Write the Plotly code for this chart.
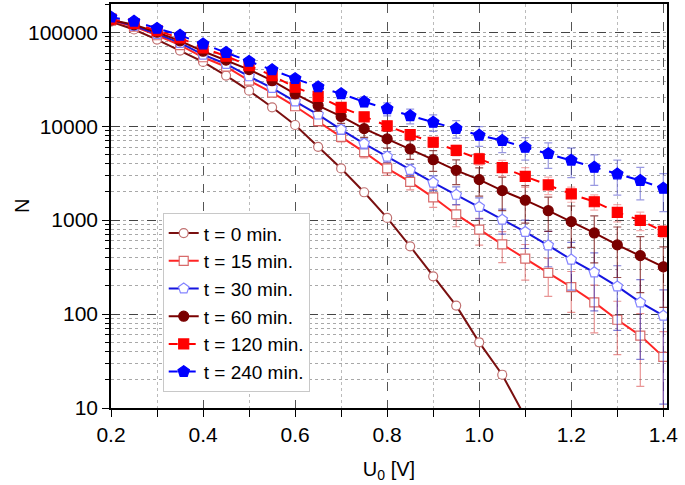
import plotly.graph_objects as go

U0 = [0.2, 0.25, 0.3, 0.35, 0.4, 0.45, 0.5, 0.55, 0.6, 0.65, 0.7, 0.75, 0.8,
      0.85, 0.9, 0.95, 1.0, 1.05, 1.1, 1.15, 1.2, 1.25, 1.3, 1.35, 1.4]

y_tick_vals = [10, 100, 1000, 10000, 100000]
y_tick_text = ["10", "100", "1000", "10000", "100000"]

t0 = [130000, 107000, 83600, 63800, 48400, 34600, 23900, 15900, 10300, 6030,
      3550, 1980, 1055, 526, 252, 123, 50, 22.6, 8]
t0_err = [4000, 3500, 3000, 2500, 2000, 1500, 1100, 800, 500, 300, 180, 100,
          55, 30, 15, 8, 4, 2, 1]

t15 = [133000, 115000, 93000, 73000, 54200, 43000, 30600, 22800, 16300, 11300,
       7700, 5300, 3550, 2550, 1750, 1150, 792, 553, 390, 274, 194, 133, 87, 59, 35]
t15_err = [3000, 3000, 3000, 2800, 2500, 2200, 2000, 1800, 1500, 1200, 900, 700,
           550, 450, 380, 300, 250, 200, 160, 120, 90, 70, 50, 42, 30]

t30 = [136000, 117000, 96000, 77000, 57800, 46000, 34000, 25500, 18400, 13300,
       9200, 6530, 4750, 3420, 2510, 1860, 1380, 1010, 749, 539, 380, 278, 197, 133, 96]
t30_err = [3000, 3000, 3000, 2800, 2500, 2200, 2000, 1800, 1500, 1200, 1000, 800,
           600, 500, 450, 400, 350, 300, 250, 220, 200, 170, 130, 100, 85]

t60 = [135000, 120000, 100000, 81000, 62800, 50500, 40100, 30500, 22100, 16600,
       12700, 9420, 7330, 5730, 4400, 3390, 2700, 2060, 1630, 1260, 964, 731, 545, 419, 318]
t60_err = [3000, 3000, 3000, 3000, 2800, 2700, 2600, 2500, 2500, 2200, 2000, 1800,
           1500, 1300, 1100, 1000, 900, 800, 700, 500, 450, 380, 300, 250, 200]

t120 = [138000, 124000, 104000, 87000, 68000, 55600, 44200, 34600, 26000, 20800,
        15900, 12600, 10100, 8150, 6750, 5540, 4490, 3620, 2930, 2370, 1900, 1570, 1210, 995, 760]
t120_err = [2500, 2500, 2500, 2500, 2500, 2200, 2000, 1800, 1800, 1500, 1300, 1200,
            1000, 900, 800, 700, 650, 700, 700, 500, 350, 290, 250, 220, 110]

t240 = [145000, 131000, 110000, 93000, 75000, 61000, 49000, 39800, 32100, 26200,
        22100, 18200, 15300, 12900, 11000, 9450, 8000, 7030, 5960, 5100, 4340, 3650, 3100, 2640, 2180]
t240_err = [3000, 3000, 3000, 3000, 2500, 2500, 2000, 1800, 2000, 2000, 2000, 2300,
            2400, 2300, 2200, 2000, 1900, 1800, 1600, 1550, 1500, 1300, 1250, 1000, 950]

series = [
    ("t = 0 min.", t0, t0_err, "#7a1010", "solid", "circle", "white", "#c07070", 9, "rgba(128,20,20,0.6)"),
    ("t = 15 min.", t15, t15_err, "#ff2525", "solid", "square", "white", "#d86a6a", 9, "rgba(215,60,60,0.55)"),
    ("t = 30 min.", t30, t30_err, "#1515e0", "solid", "pentagon", "white", "#8585ff", 11, "rgba(40,40,190,0.6)"),
    ("t = 60 min.", t60, t60_err, "#7a0000", "solid", "circle", "#7a0000", "#7a0000", 10, "rgba(110,0,0,0.7)"),
    ("t = 120 min.", t120, t120_err, "#ff0000", "dash", "square", "#ff0000", "#ff0000", 10, "rgba(235,110,110,0.55)"),
    ("t = 240 min.", t240, t240_err, "#0000ff", "dash", "pentagon", "#0000ff", "#0000ff", 12, "rgba(70,70,200,0.55)"),
]

fig = go.Figure()
for name, y, err, lc, dash, sym, fc, mlc, ms, ec in series:
    fig.add_trace(go.Scatter(
        x=U0[:len(y)], y=y, name=name, mode="lines+markers",
        line=dict(color=lc, width=2, dash=dash),
        marker=dict(symbol=sym, size=ms, color=fc, line=dict(color=mlc, width=1.2)),
        error_y=dict(type="data", array=err[:len(y)], visible=True,
                     color=ec, thickness=1.2, width=4),
    ))

font_family = "Liberation Sans, Arial, sans-serif"

fig.update_layout(
    width=685, height=485,
    margin=dict(l=111, r=18, t=4, b=77),
    paper_bgcolor="white", plot_bgcolor="white",
    font=dict(family=font_family, size=20, color="black"),
    showlegend=True,
    legend=dict(
        x=0.093, y=0.482, xanchor="left", yanchor="top",
        bgcolor="white", bordercolor="#c8c8c8", borderwidth=1,
        font=dict(size=19), tracegroupgap=0, itemwidth=30,
    ),
    annotations=[dict(
        text="N", xref="paper", yref="paper", x=-0.16, y=0.5,
        xanchor="center", yanchor="middle", textangle=-90, showarrow=False,
        font=dict(size=20, family=font_family, color="black"),
    )],
)

fig.update_xaxes(
    range=[0.2, 1.408], tick0=0.2, dtick=0.2, tickformat=".1f",
    automargin=False,
    showline=True, linecolor="black", linewidth=1.5, mirror=True,
    ticks="outside", ticklen=7, tickwidth=1.2, tickcolor="black",
    showgrid=True, gridcolor="#555555", gridwidth=1, griddash="dash",
    zeroline=False,
    minor=dict(dtick=0.1, ticks="outside", ticklen=7, tickcolor="black",
               showgrid=True, gridcolor="#bbbbbb", griddash="dot"),
    title=dict(text="U<sub>0</sub> [V]", font=dict(size=20), standoff=17),
    tickfont=dict(size=21),
)

fig.update_yaxes(
    type="log", range=[1, 5.301],
    tickmode="array", tickvals=y_tick_vals, ticktext=y_tick_text,
    automargin=False,
    showline=True, linecolor="black", linewidth=1.5, mirror=True,
    ticks="outside", ticklen=7, tickwidth=1.2, tickcolor="black",
    showgrid=True, gridcolor="#444444", gridwidth=1, griddash="dash",
    zeroline=False,
    minor=dict(dtick="D1", ticks="outside", ticklen=4, tickcolor="black",
               showgrid=True, gridcolor="#a8a8a8", griddash="dot"),
    tickfont=dict(size=21),
)

fig.write_html("out.html", config={"displayModeBar": False},
               post_script="document.body.style.margin='0';")
